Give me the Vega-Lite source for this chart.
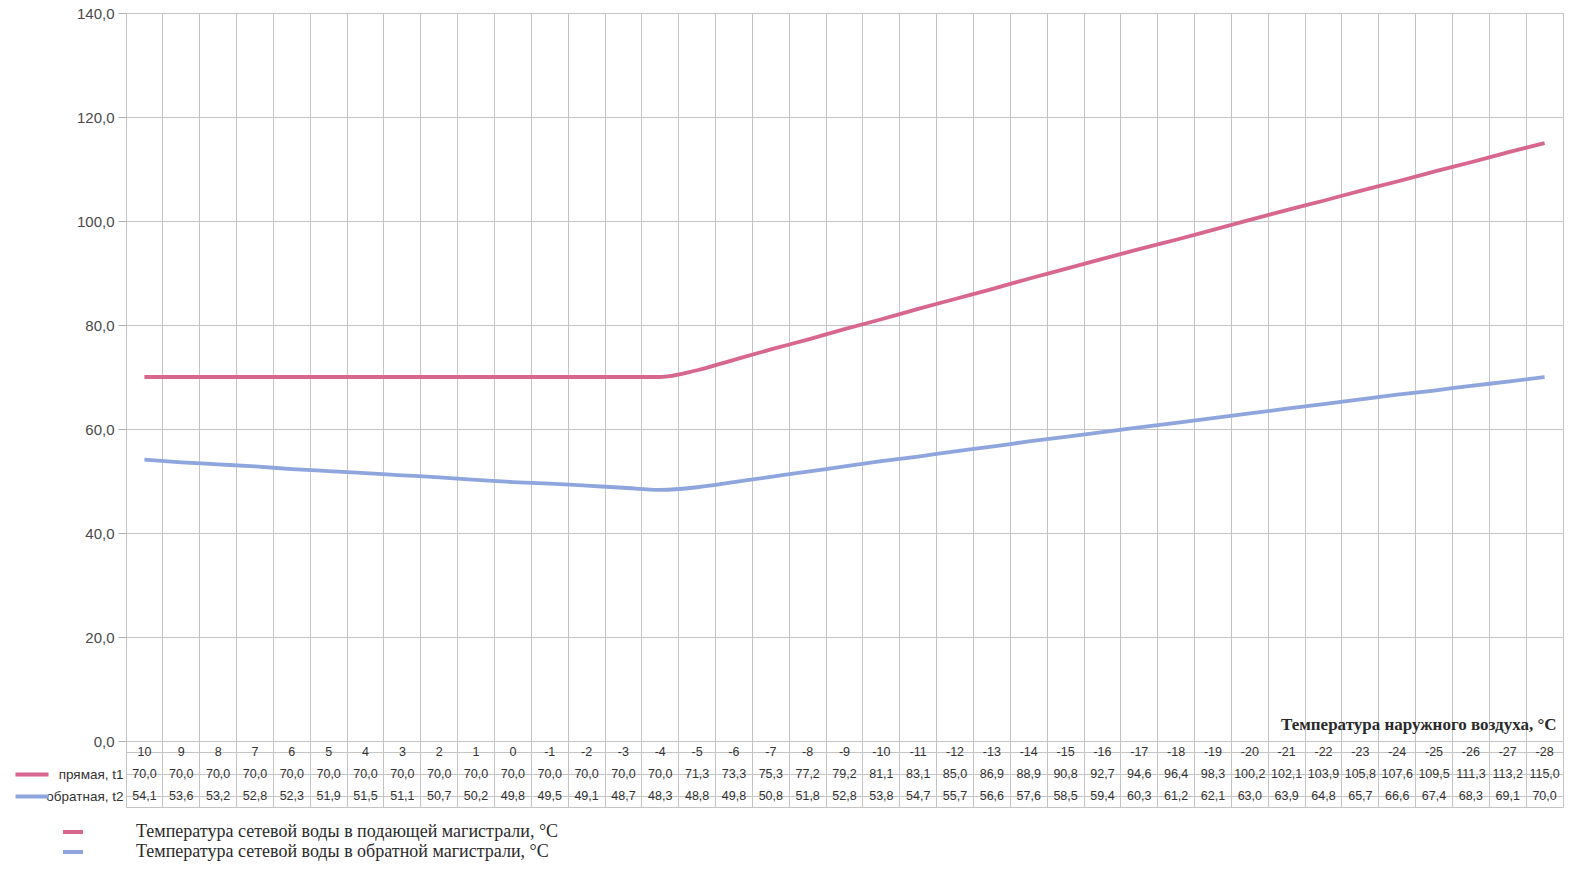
{
  "$schema": "https://vega.github.io/schema/vega-lite/v6.json",
  "usermeta": {"embedOptions": {"actions": false}},
  "padding": {"left": 12, "top": 5, "right": 0, "bottom": 0},
  "background": "white",
  "bounds": "flush",
  "config": {
    "locale": {"number": {"decimal": ",", "thousands": " ", "grouping": [3], "currency": ["", " ₽"]}},
    "view": {"stroke": "#c4c4c4"},
    "font": "Liberation Sans"
  },
  "resolve": {"scale": {"color": "independent"}, "legend": {"color": "independent"}},
  "datasets": {
    "d": [
      {"t": "10", "s": "t1", "v": 70.0}, {"t": "9", "s": "t1", "v": 70.0}, {"t": "8", "s": "t1", "v": 70.0},
      {"t": "7", "s": "t1", "v": 70.0}, {"t": "6", "s": "t1", "v": 70.0}, {"t": "5", "s": "t1", "v": 70.0},
      {"t": "4", "s": "t1", "v": 70.0}, {"t": "3", "s": "t1", "v": 70.0}, {"t": "2", "s": "t1", "v": 70.0},
      {"t": "1", "s": "t1", "v": 70.0}, {"t": "0", "s": "t1", "v": 70.0}, {"t": "-1", "s": "t1", "v": 70.0},
      {"t": "-2", "s": "t1", "v": 70.0}, {"t": "-3", "s": "t1", "v": 70.0}, {"t": "-4", "s": "t1", "v": 70.0},
      {"t": "-5", "s": "t1", "v": 71.3}, {"t": "-6", "s": "t1", "v": 73.3}, {"t": "-7", "s": "t1", "v": 75.3},
      {"t": "-8", "s": "t1", "v": 77.2}, {"t": "-9", "s": "t1", "v": 79.2}, {"t": "-10", "s": "t1", "v": 81.1},
      {"t": "-11", "s": "t1", "v": 83.1}, {"t": "-12", "s": "t1", "v": 85.0}, {"t": "-13", "s": "t1", "v": 86.9},
      {"t": "-14", "s": "t1", "v": 88.9}, {"t": "-15", "s": "t1", "v": 90.8}, {"t": "-16", "s": "t1", "v": 92.7},
      {"t": "-17", "s": "t1", "v": 94.6}, {"t": "-18", "s": "t1", "v": 96.4}, {"t": "-19", "s": "t1", "v": 98.3},
      {"t": "-20", "s": "t1", "v": 100.2}, {"t": "-21", "s": "t1", "v": 102.1}, {"t": "-22", "s": "t1", "v": 103.9},
      {"t": "-23", "s": "t1", "v": 105.8}, {"t": "-24", "s": "t1", "v": 107.6}, {"t": "-25", "s": "t1", "v": 109.5},
      {"t": "-26", "s": "t1", "v": 111.3}, {"t": "-27", "s": "t1", "v": 113.2}, {"t": "-28", "s": "t1", "v": 115.0},
      {"t": "10", "s": "t2", "v": 54.1}, {"t": "9", "s": "t2", "v": 53.6}, {"t": "8", "s": "t2", "v": 53.2},
      {"t": "7", "s": "t2", "v": 52.8}, {"t": "6", "s": "t2", "v": 52.3}, {"t": "5", "s": "t2", "v": 51.9},
      {"t": "4", "s": "t2", "v": 51.5}, {"t": "3", "s": "t2", "v": 51.1}, {"t": "2", "s": "t2", "v": 50.7},
      {"t": "1", "s": "t2", "v": 50.2}, {"t": "0", "s": "t2", "v": 49.8}, {"t": "-1", "s": "t2", "v": 49.5},
      {"t": "-2", "s": "t2", "v": 49.1}, {"t": "-3", "s": "t2", "v": 48.7}, {"t": "-4", "s": "t2", "v": 48.3},
      {"t": "-5", "s": "t2", "v": 48.8}, {"t": "-6", "s": "t2", "v": 49.8}, {"t": "-7", "s": "t2", "v": 50.8},
      {"t": "-8", "s": "t2", "v": 51.8}, {"t": "-9", "s": "t2", "v": 52.8}, {"t": "-10", "s": "t2", "v": 53.8},
      {"t": "-11", "s": "t2", "v": 54.7}, {"t": "-12", "s": "t2", "v": 55.7}, {"t": "-13", "s": "t2", "v": 56.6},
      {"t": "-14", "s": "t2", "v": 57.6}, {"t": "-15", "s": "t2", "v": 58.5}, {"t": "-16", "s": "t2", "v": 59.4},
      {"t": "-17", "s": "t2", "v": 60.3}, {"t": "-18", "s": "t2", "v": 61.2}, {"t": "-19", "s": "t2", "v": 62.1},
      {"t": "-20", "s": "t2", "v": 63.0}, {"t": "-21", "s": "t2", "v": 63.9}, {"t": "-22", "s": "t2", "v": 64.8},
      {"t": "-23", "s": "t2", "v": 65.7}, {"t": "-24", "s": "t2", "v": 66.6}, {"t": "-25", "s": "t2", "v": 67.4},
      {"t": "-26", "s": "t2", "v": 68.3}, {"t": "-27", "s": "t2", "v": 69.1}, {"t": "-28", "s": "t2", "v": 70.0}
    ]
  },
  "vconcat": [
    {
      "width": 1437,
      "height": 728,
      "data": {"name": "d"},
      "mark": {"type": "line", "strokeWidth": 3.8, "interpolate": "monotone"},
      "encoding": {
        "x": {
          "field": "t", "type": "ordinal", "sort": null, "bandPosition": 0.5,
          "scale": {"type": "band", "paddingInner": 0, "paddingOuter": 0},
          "axis": {
            "labels": false, "ticks": false, "domain": false, "grid": true, "gridColor": "#c4c4c4", "bandPosition": 0,
            "minExtent": 0,
            "title": "Температура наружного воздуха, °C", "titleFont": "Liberation Serif", "titleFontSize": 17,
            "titleFontWeight": "bold", "titleColor": "#2a2a2a", "titleAnchor": "end", "titleAlign": "right",
            "titleBaseline": "bottom", "titleY": -8, "titleX": 1430
          }
        },
        "y": {
          "field": "v", "type": "quantitative", "scale": {"domain": [0, 140]},
          "axis": {
            "values": [0, 20, 40, 60, 80, 100, 120, 140], "format": ".1f", "grid": true, "gridColor": "#c4c4c4",
            "domain": false, "ticks": true, "tickSize": 8, "tickColor": "#b0b0b0", "labelFontSize": 15,
            "labelColor": "#4a4a4a", "labelPadding": 4, "title": null
          }
        },
        "color": {
          "field": "s", "type": "nominal",
          "scale": {"domain": ["t1", "t2"], "range": ["#d8678f", "#8fa5dd"]},
          "legend": null
        }
      }
    },
    {
      "width": 1437,
      "height": 66,
      "data": {"name": "d"},
      "resolve": {"axis": {"y": "independent"}},
      "layer": [
        {
          "mark": {"type": "text", "fontSize": 12.5, "color": "#333"},
          "encoding": {
            "x": {
              "field": "t", "type": "ordinal", "sort": null,
              "scale": {"type": "band", "paddingInner": 0, "paddingOuter": 0},
              "axis": {"labels": false, "ticks": false, "domain": false, "grid": true, "gridColor": "#c4c4c4", "bandPosition": 0, "title": null, "minExtent": 0}
            },
            "y": {
              "field": "s", "type": "ordinal",
              "scale": {"domain": ["hdr", "t1", "t2"], "paddingInner": 0, "paddingOuter": 0},
              "axis": {
                "orient": "left", "grid": true, "gridColor": "#c4c4c4", "bandPosition": 0, "ticks": false, "domain": false,
                "labelExpr": "datum.value === 't1' ? 'прямая, t1' : datum.value === 't2' ? 'обратная, t2' : ''",
                "labelFontSize": 13.5, "labelColor": "#333", "labelPadding": 3, "title": null
              }
            },
            "text": {"field": "v", "type": "quantitative", "format": ".1f"}
          }
        },
        {
          "transform": [{"filter": "datum.s === 't1'"}],
          "mark": {"type": "text", "fontSize": 12.5, "color": "#333"},
          "encoding": {
            "x": {"field": "t", "type": "ordinal", "sort": null},
            "y": {"datum": "hdr", "type": "ordinal", "axis": null},
            "text": {"field": "t", "type": "nominal"}
          }
        },
        {
          "mark": {"type": "text", "text": ""},
          "encoding": {
            "x": {"field": "t", "type": "ordinal", "sort": null},
            "y": {
              "field": "s", "type": "ordinal",
              "axis": {
                "orient": "left", "offset": 78, "labels": false, "grid": false, "domain": false, "ticks": true,
                "tickSize": 33, "tickWidth": 3.8,
                "tickColor": {"condition": {"test": "datum.value === 't1'", "value": "#d8678f"}, "value": "#8fa5dd"},
                "tickOpacity": {"condition": {"test": "datum.value === 'hdr'", "value": 0}, "value": 1},
                "title": null
              }
            },
            "color": {
              "field": "s", "type": "nominal",
              "scale": {"domain": ["t1", "t2"], "range": ["#d8678f", "#8fa5dd"]},
              "legend": {
                "orient": "none", "legendX": -63, "legendY": 81, "direction": "vertical", "title": null,
                "symbolType": "M-1,-0.2L1,-0.2L1,0.2L-1,0.2Z", "symbolSize": 400, "symbolStrokeWidth": 0,
                "labelOffset": 53,
                "labelFont": "Liberation Serif", "labelFontSize": 18, "labelColor": "#2a2a2a", "labelLimit": 0,
                "rowPadding": 1,
                "labelExpr": "datum.value === 't1' ? 'Температура сетевой воды в подающей магистрали, °C' : 'Температура сетевой воды в обратной магистрали, °C'"
              }
            }
          }
        }
      ]
    }
  ],
  "spacing": 0
}
